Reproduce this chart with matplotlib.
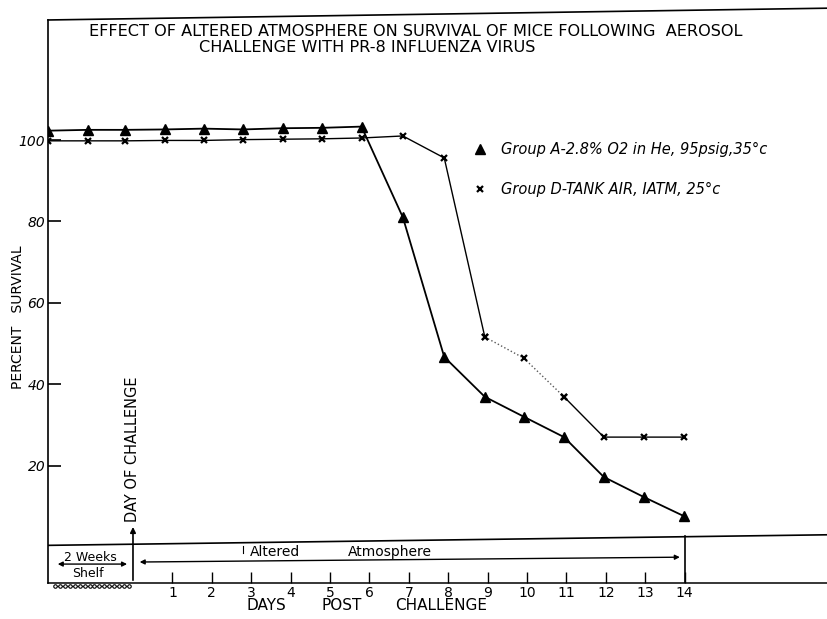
import matplotlib.pyplot as plt
import numpy as np

# days relative to the day of challenge, as hand plotted on the original
days = [-2.15, -1.15, -0.2, 0.8, 1.8, 2.8, 3.8, 4.8, 5.8, 6.85, 7.9, 8.93, 9.92, 10.94, 11.95, 12.96, 13.98]
group_a = [102.3, 102.5, 102.5, 102.6, 102.8, 102.6, 102.9, 103.0, 103.3, 81.0, 46.7, 36.9, 32.0, 27.0, 17.2, 12.3, 7.6]
group_d = [99.8, 99.8, 99.8, 99.9, 99.9, 100.1, 100.2, 100.3, 100.5, 101.0, 95.6, 51.6, 46.4, 36.9, 27.0, 27.0, 27.0]

label_a = 'Group A-2.8% O2 in He, 95psig,35°c'
label_d = 'Group D-TANK AIR, IATM, 25°c'
y_ticks = [20, 40, 60, 80, 100]
x_ticks = list(range(1, 15))

W, H = 828, 619
XMIN, XMAX = -2.157, 17.64
YMIN, YMAX = -8.85, 133.5


def fx(px):
    return px / W


def fy(py):
    return 1 - py / H


fig = plt.figure(figsize=(W / 100, H / 100), dpi=100)
ax = fig.add_axes([48 / W, 36 / H, 780 / W, 579.3 / H])
ax.set_xlim(XMIN, XMAX)
ax.set_ylim(YMIN, YMAX)

# data
line_a, = ax.plot(days, group_a, color='k', lw=1.3, marker='^', ms=7)
line_d, = ax.plot(days[:12], group_d[:12], color='k', lw=1.0, marker='x', ms=5, mew=1.6)
ax.plot(days[11:14], group_d[11:14], color='0.35', lw=1.0, ls=':', marker='x', ms=5, mew=1.6, mec='k')
ax.plot(days[13:], group_d[13:], color='k', lw=1.0, marker='x', ms=5, mew=1.6)

# axes frame
for side in ('top', 'right'):
    ax.spines[side].set_visible(False)
ax.spines['left'].set_bounds(YMIN, 129.5)
ax.spines['left'].set_linewidth(1.2)
ax.spines['bottom'].set_linewidth(1.1)
ax.plot([XMIN, XMAX], [129.5, 132.4], color='k', lw=1.2, clip_on=False)

ax.set_xticks(x_ticks)
ax.tick_params(axis='x', direction='in', length=8, width=1, pad=2, labelsize=10)
ax.set_yticks(y_ticks)
ax.tick_params(axis='y', direction='in', length=9, width=1.2, pad=2, labelsize=10)
for t in ax.get_yticklabels():
    t.set_style('italic')

# time band under the curves
ax.plot([XMIN, XMAX], [0.4, 3.0], color='k', lw=1.2)
ax.plot([14, 14], [YMIN, 2.6], color='k', lw=1.2)
ax.annotate('', xy=(0, 5.6), xytext=(0, YMIN),
            arrowprops=dict(arrowstyle='-|>', color='k', lw=1.2, mutation_scale=8))
ax.annotate('', xy=(-0.08, -4.2), xytext=(-1.98, -4.2),
            arrowprops=dict(arrowstyle='<|-|>', color='k', lw=1.0, mutation_scale=7))
ax.annotate('', xy=(13.95, -2.5), xytext=(0.1, -3.7),
            arrowprops=dict(arrowstyle='<|-|>', color='k', lw=1.0, mutation_scale=7))
ax.plot([2.79, 2.79], [0.3, -1.6], color='k', lw=0.8)
shelf_x = np.linspace(-1.98, -0.1, 16)
ax.plot(shelf_x, np.full_like(shelf_x, -9.6), color='k', lw=0.8, marker='o', ms=2.5,
        mfc='white', mec='k', mew=0.8, clip_on=False)

ax.text(-1.09, -2.5, '2 Weeks', ha='center', va='center', fontsize=9)
ax.text(-1.14, -6.6, 'Shelf', ha='center', va='center', fontsize=9)
ax.text(3.6, -1.2, 'Altered', ha='center', va='center', fontsize=10)
ax.text(6.52, -1.2, 'Atmosphere', ha='center', va='center', fontsize=10)
ax.text(0, 6.2, 'DAY OF CHALLENGE', rotation=90, ha='center', va='bottom', fontsize=10.5)

ax.text(3.38, -14.5, 'DAYS', ha='center', va='center', fontsize=11, clip_on=False)
ax.text(5.30, -14.5, 'POST', ha='center', va='center', fontsize=11, clip_on=False)
ax.text(7.82, -14.5, 'CHALLENGE', ha='center', va='center', fontsize=11, clip_on=False)

fig.text(fx(18), fy(317), 'PERCENT   SURVIVAL', rotation=90, ha='center', va='center', fontsize=10)
fig.text(fx(416), fy(31), 'EFFECT OF ALTERED ATMOSPHERE ON SURVIVAL OF MICE FOLLOWING  AEROSOL',
         ha='center', va='center', fontsize=11.6)
fig.text(fx(367), fy(48), 'CHALLENGE WITH PR-8 INFLUENZA VIRUS', ha='center', va='center', fontsize=11.6)

ax.legend([line_a, line_d], [label_a, label_d], loc='upper left',
          bbox_to_anchor=(fx(480), fy(142)), bbox_transform=fig.transFigure,
          frameon=False, handlelength=0, handletextpad=1.45, labelspacing=1.7,
          borderpad=0, borderaxespad=0, numpoints=1,
          prop={'style': 'italic', 'size': 10.5})

fig.savefig('out.png', dpi=100)
